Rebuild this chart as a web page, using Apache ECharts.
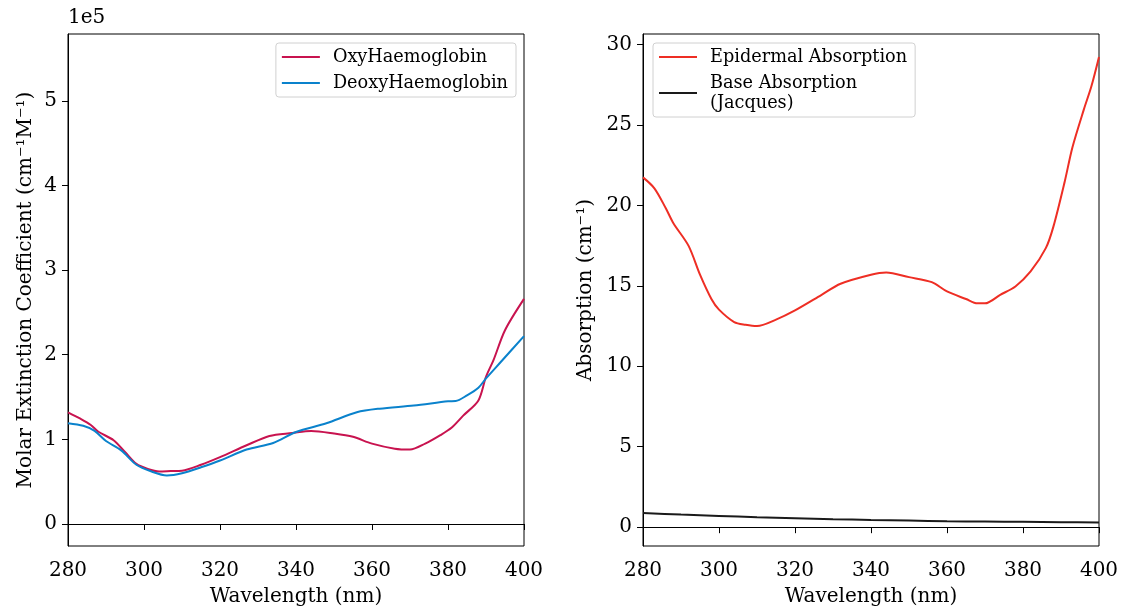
<!DOCTYPE html>
<html><head><meta charset="utf-8">
<script src="https://cdn.jsdelivr.net/npm/echarts@6/dist/echarts.min.js"></script>
<style>html,body{margin:0;padding:0;background:#fff}#c{width:1127px;height:609px}</style>
</head><body><div id="c"></div>
<script>
// wavelength (nm), value in units of 1e5 cm^-1 M^-1
const oxyWl   = [280,283,286,288,292,295,298,301,304,307,310,315,320,327,333,339,344,350,355,360,366,370,374,378,381,384,388,390,392,395,400];
const oxyVal  = [1.32,1.25,1.17,1.09,0.99,0.85,0.71,0.65,0.62,0.625,0.63,0.70,0.79,0.93,1.04,1.075,1.10,1.07,1.03,0.95,0.89,0.88,0.95,1.05,1.14,1.28,1.46,1.74,1.94,2.29,2.66];
const deoxyWl  = [280,284,287,290,294,298,302,306,310,315,320,327,334,340,348,356,362,371,380,382,385,388,390,394,400];
const deoxyVal = [1.19,1.16,1.10,0.98,0.87,0.70,0.62,0.574,0.60,0.67,0.75,0.88,0.957,1.087,1.19,1.32,1.363,1.40,1.45,1.453,1.52,1.61,1.72,1.92,2.22];
const epiWl   = [280,283,286,288,292,295,298,300,304,307,310,315,320,327,332,340,344,350,356,360,365,368,370,374,378,382,386,388,391,393,396,398,400];
const epiVal  = [21.74,21.06,19.82,18.89,17.48,15.69,14.18,13.52,12.75,12.58,12.50,12.90,13.47,14.44,15.13,15.69,15.83,15.54,15.23,14.65,14.18,13.91,13.91,14.44,14.96,15.89,17.34,18.68,21.5,23.6,25.95,27.4,29.22];
const baseWl  = [280,290,300,310,320,330,340,350,360,370,380,390,400];
const baseVal = [0.88,0.78,0.70,0.62,0.56,0.50,0.45,0.41,0.37,0.35,0.33,0.31,0.29];
const xTicks = [280,300,320,340,360,380,400];
const yTicksL = [0,1,2,3,4,5];
const yTicksR = [0,5,10,15,20,25,30];

const zip = (a,b)=>a.map((v,i)=>[v,b[i]]);
const F = 'DejaVu Serif';
function tick(vals){ return {show:true,length:6,lineStyle:{color:'#000'},customValues:vals}; }
function xAx(gi){
  return {type:'value',gridIndex:gi,min:280,max:400,interval:20,
    name:'Wavelength (nm)',nameLocation:'middle',nameGap:41,
    nameTextStyle:{fontFamily:F,fontSize:20,color:'#000'},
    axisLine:{show:true,lineStyle:{color:'#000',width:1}},
    axisTick:tick(xTicks),splitLine:{show:false},
    axisLabel:{fontFamily:F,fontSize:20,color:'#000',margin:15,customValues:xTicks}};
}
function yAx(gi,min,max,name,gap,vals){
  return {type:'value',gridIndex:gi,min:min,max:max,
    name:name,nameLocation:'middle',nameGap:gap,
    nameTextStyle:{fontFamily:F,fontSize:20,color:'#000'},
    axisLine:{show:true,lineStyle:{color:'#000',width:1}},
    axisTick:tick(vals),splitLine:{show:false},
    axisLabel:{fontFamily:F,fontSize:20,color:'#000',margin:11,customValues:vals}};
}
const legendCommon = {orient:'vertical',icon:'rect',itemWidth:38,itemHeight:2,itemGap:6,
  textStyle:{fontFamily:F,fontSize:17.7,color:'#000',padding:[0,0,0,8],lineHeight:20},
  borderColor:'#d0d0d0',borderWidth:1,borderRadius:3,padding:[4,8,4,6],backgroundColor:'rgba(255,255,255,0.8)'};
const chart = echarts.init(document.getElementById('c'));
chart.setOption({
  animation:false,
  grid:[
    {left:68,top:34,width:456,height:512,show:true,borderColor:'#000',borderWidth:1,containLabel:false,outerBoundsMode:'none'},
    {left:643,top:34,width:456,height:512,show:true,borderColor:'#000',borderWidth:1,containLabel:false,outerBoundsMode:'none'}
  ],
  xAxis:[xAx(0),xAx(1)],
  yAxis:[
    yAx(0,-0.26,5.79,'Molar Extinction Coefficient (cm⁻¹M⁻¹)',32,yTicksL),
    yAx(1,-1.17,30.65,'Absorption (cm⁻¹)',47,yTicksR)
  ],
  legend:[
    Object.assign({right:611,top:43,data:['OxyHaemoglobin','DeoxyHaemoglobin']},legendCommon),
    Object.assign({left:653,top:43,data:['Epidermal Absorption','Base Absorption (Jacques)'],
     formatter:n=>n==='Base Absorption (Jacques)'?'Base Absorption\n(Jacques)':n},legendCommon)
  ],
  graphic:[{type:'text',left:68,top:8,style:{text:'1e5',font:'20px "DejaVu Serif"',fill:'#000'}}],
  series:[
    {name:'OxyHaemoglobin',type:'line',xAxisIndex:0,yAxisIndex:0,data:zip(oxyWl,oxyVal),showSymbol:false,smooth:0.3,
     lineStyle:{color:'#c8134f',width:2},itemStyle:{color:'#c8134f'}},
    {name:'DeoxyHaemoglobin',type:'line',xAxisIndex:0,yAxisIndex:0,data:zip(deoxyWl,deoxyVal),showSymbol:false,smooth:0.3,
     lineStyle:{color:'#0a82cc',width:2},itemStyle:{color:'#0a82cc'}},
    {name:'Epidermal Absorption',type:'line',xAxisIndex:1,yAxisIndex:1,data:zip(epiWl,epiVal),showSymbol:false,smooth:0.3,
     lineStyle:{color:'#ee2e24',width:2},itemStyle:{color:'#ee2e24'}},
    {name:'Base Absorption (Jacques)',type:'line',xAxisIndex:1,yAxisIndex:1,data:zip(baseWl,baseVal),showSymbol:false,smooth:0.3,
     lineStyle:{color:'#1a1a1a',width:2},itemStyle:{color:'#1a1a1a'}}
  ]
});
</script></body></html>
